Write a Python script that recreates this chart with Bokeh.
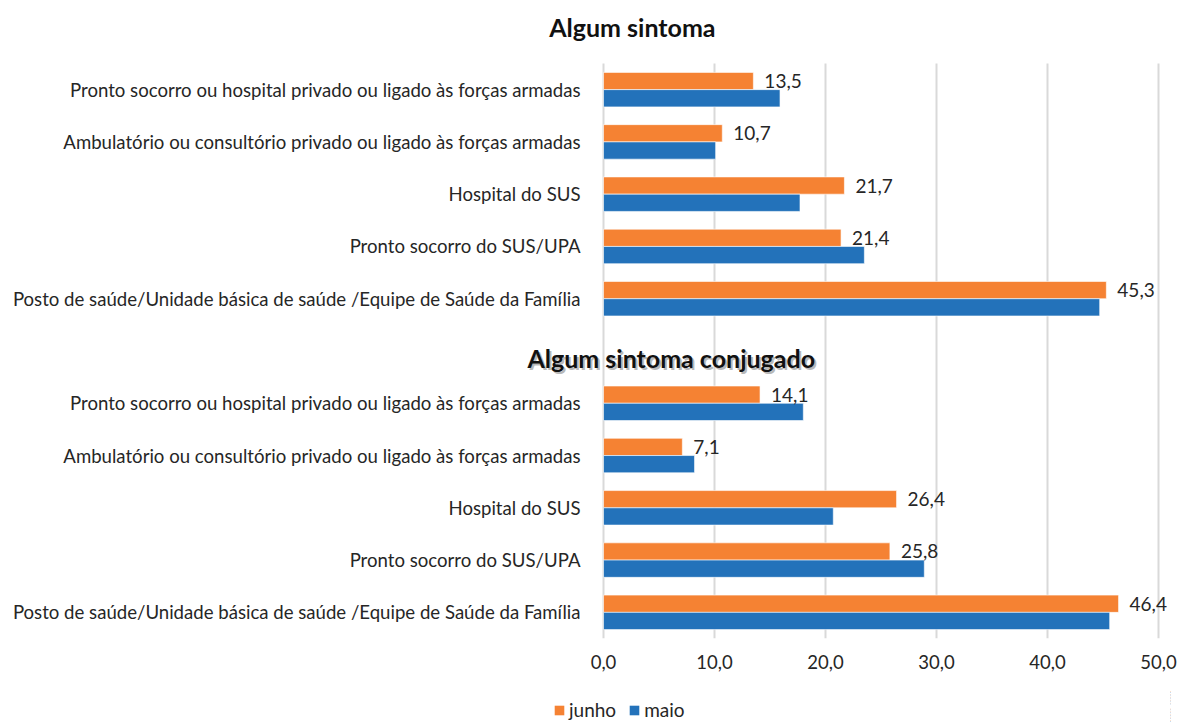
from bokeh.plotting import figure
from bokeh.layouts import column
from bokeh.models import (Range1d, FixedTicker, Legend, LegendItem, ColumnDataSource,
                          CustomJSTickFormatter, Label)
from bokeh.core.properties import value
from bokeh.embed import file_html
from bokeh.resources import INLINE

# ---- data ----
categories = [
    "Pronto socorro ou hospital privado ou ligado às forças armadas",
    "Ambulatório ou consultório privado ou ligado às forças armadas",
    "Hospital do SUS",
    "Pronto socorro do SUS/UPA",
    "Posto de saúde/Unidade básica de saúde /Equipe de Saúde da Família",
]
groups = ["Algum sintoma", "Algum sintoma conjugado"]
series = ["junho", "maio"]
junho_g1 = [13.5, 10.7, 21.7, 21.4, 45.3]
maio_g1 = [15.9, 10.1, 17.7, 23.5, 44.7]
junho_g2 = [14.1, 7.1, 26.4, 25.8, 46.4]
maio_g2 = [18.0, 8.2, 20.7, 28.9, 45.6]
x_ticks = [0, 10, 20, 30, 40, 50]

ORANGE = "#F58233"
BLUE = "#2372BA"
FONT = "Lato"
TXT = "#262626"

# slot positions: group 1 on top, a blank slot, then group 2
n = len(categories)
pos_g1 = [2 * n - j for j in range(n)]
pos_g2 = [n - 1 - j for j in range(n)]
pos = pos_g1 + pos_g2
labels = categories + categories
junho = junho_g1 + junho_g2
maio = maio_g1 + maio_g2
half = 0.33
y_lo, y_hi = -0.5, 2 * n + 0.5

src = ColumnDataSource(dict(
    y=pos, junho=junho, maio=maio,
    yj=[p_ + half / 2 for p_ in pos], ym=[p_ - half / 2 for p_ in pos],
    lab=[("%.1f" % v).replace(".", ",") for v in junho],
))

# frame spans the title area too; grid lines are bounded to the bar area
p = figure(frame_width=648, frame_height=638, output_backend="svg", toolbar_location=None,
           x_range=Range1d(-7.30, 51.08), y_range=Range1d(y_lo, y_hi + 1.205),
           min_border_left=522, min_border_right=10, min_border_top=0,
           min_border_bottom=52)
p.title.text = ""

p.hbar(y="yj", right="junho", left=0, height=half, source=src,
       fill_color=ORANGE, line_color="white", line_width=0.6)
p.hbar(y="ym", right="maio", left=0, height=half, source=src,
       fill_color=BLUE, line_color="white", line_width=0.6)

p.text(x="junho", y="yj", text="lab", source=src, x_offset=11,
       text_align="left", text_baseline="middle", text_font=value(FONT),
       text_font_size="19px", text_color=TXT)

# chart title
p.add_layout(Label(x=2.6, y=y_hi + 0.69, text=groups[0],
                   text_align="center", text_baseline="middle", text_font=FONT,
                   text_font_size="25px", text_font_style="bold", text_color="#111111"))

# group subtitle in the blank slot (with a soft shadow)
p.add_layout(Label(x=6.1, y=n, text=groups[1], x_offset=2, y_offset=-9,
                   text_align="center", text_baseline="middle", text_font=FONT,
                   text_font_size="25px", text_font_style="bold",
                   text_color="#9a9a9a", text_alpha=0.7))
p.add_layout(Label(x=6.1, y=n, text=groups[1], x_offset=0, y_offset=-7,
                   text_align="center", text_baseline="middle", text_font=FONT,
                   text_font_size="25px", text_font_style="bold",
                   text_color="#111111"))

# axes
p.xaxis.ticker = FixedTicker(ticks=x_ticks)
p.xaxis.formatter = CustomJSTickFormatter(code="return tick.toFixed(1).replace('.', ',');")
p.xaxis.axis_line_color = None
p.xaxis.major_tick_line_color = None
p.xaxis.minor_tick_line_color = None
p.xaxis.major_label_standoff = 10
p.xaxis.major_label_text_font = FONT
p.xaxis.major_label_text_font_size = "18.5px"
p.xaxis.major_label_text_color = TXT

p.yaxis.ticker = FixedTicker(ticks=pos)
p.yaxis.major_label_overrides = {pp: lb for pp, lb in zip(pos, labels)}
p.yaxis.axis_line_color = None
p.yaxis.major_tick_line_color = None
p.yaxis.minor_tick_line_color = None
p.yaxis.major_label_standoff = -64
p.yaxis.major_label_text_font = FONT
p.yaxis.major_label_text_font_size = "18.6px"
p.yaxis.major_label_text_color = TXT

p.ygrid.grid_line_color = None
p.xgrid.grid_line_color = "#D9D9D9"
p.xgrid.grid_line_width = 2
p.xgrid.cross_bounds = (y_lo, y_hi)
p.outline_line_color = None

# legend strip below the chart
lg = figure(width=1180, height=32, output_backend="svg", toolbar_location=None,
            x_range=Range1d(-100, -99), y_range=Range1d(y_lo, y_hi),
            x_axis_location=None, y_axis_location=None,
            min_border_left=0, min_border_right=0, min_border_top=0, min_border_bottom=0)
lg.grid.visible = False
lg.outline_line_color = None
lj = lg.hbar(y="yj", right="junho", left=0, height=half, source=src,
             fill_color=ORANGE, line_color=None)
lm = lg.hbar(y="ym", right="maio", left=0, height=half, source=src,
             fill_color=BLUE, line_color=None)
legend = Legend(items=[LegendItem(label=series[0], renderers=[lj]),
                       LegendItem(label=series[1], renderers=[lm])],
                orientation="horizontal", location=(31, 1),
                label_text_font=FONT, label_text_font_size="19px",
                label_text_color=TXT, glyph_width=12, glyph_height=12,
                spacing=12, label_standoff=4, border_line_color=None,
                background_fill_alpha=0, padding=0, margin=0)
lg.add_layout(legend, "center")

open("out.html", "w").write(file_html(column(p, lg), INLINE))
